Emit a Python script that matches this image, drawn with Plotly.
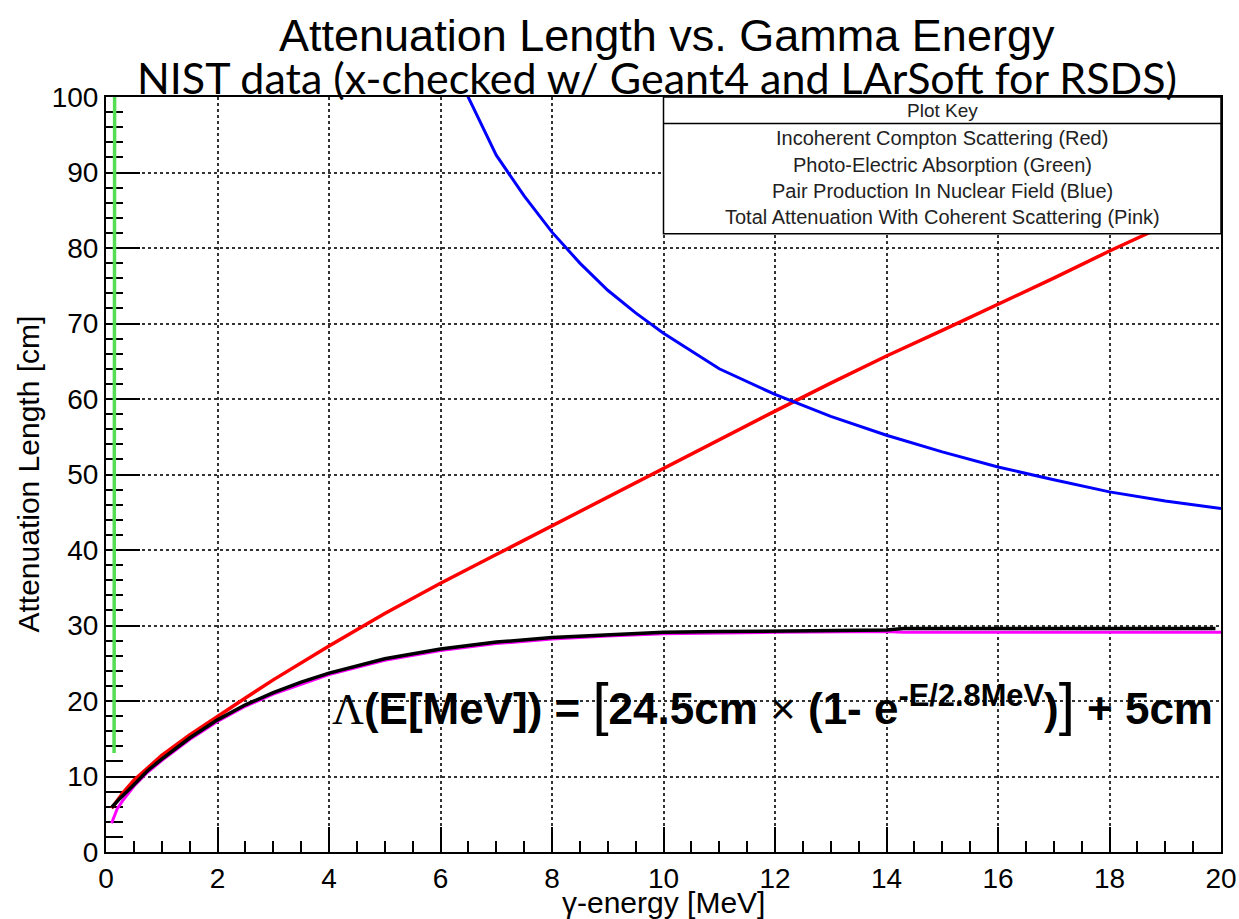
import plotly.graph_objects as go

# ---------------- data ----------------
compton_E = [0.1, 0.2, 0.3, 0.5, 0.75, 1, 1.5, 2, 2.5, 3, 4, 5, 6, 7, 8, 9, 10,
             11, 12, 13, 14, 15, 16, 17, 18, 19, 20]
compton_L = [5.8, 6.9, 7.8, 9.5, 11.2, 12.8, 15.5, 18.0, 20.4, 22.8, 27.3, 31.6,
             35.6, 39.4, 43.2, 47.0, 50.9, 54.7, 58.4, 62.1, 65.7, 69.1, 72.5,
             76.0, 79.6, 83.0, 86.4]

photo_E = [0.145, 0.15, 0.155]
photo_L = [13.1, 40, 100]

pair_E = [6.3, 6.5, 7, 7.5, 8, 8.5, 9, 9.5, 10, 11, 12, 13, 14, 15, 16, 17, 18, 19, 20]
pair_L = [103, 100, 92.3, 86.9, 82.1, 78.0, 74.4, 71.4, 68.7, 64.0, 60.6, 57.7,
          55.2, 53.0, 51.0, 49.3, 47.7, 46.5, 45.5]

total_E = [0.1, 0.15, 0.2, 0.3, 0.5, 0.75, 1, 1.5, 2, 2.5, 3, 4, 5, 6, 7, 8, 9,
           10, 12, 14, 14.3, 16, 18, 20]
total_L = [3.8, 4.9, 5.7, 6.8, 8.7, 10.6, 12.1, 14.9, 17.3, 19.3, 20.9, 23.5,
           25.4, 26.7, 27.6, 28.2, 28.6, 28.9, 29.1, 29.2, 29.1, 29.1, 29.1, 29.1]

fit_E = [0.1, 0.25, 0.5, 0.75, 1, 1.5, 2, 2.5, 3, 3.5, 4, 5, 6, 7, 8, 9, 10, 11,
         12, 13, 14, 14.3, 15, 16, 17, 18, 19, 19.9]
fit_L = [5.9, 7.1, 8.9, 10.8, 12.3, 15.1, 17.5, 19.5, 21.1, 22.5, 23.7, 25.6,
         26.9, 27.8, 28.4, 28.8, 29.1, 29.2, 29.3, 29.4, 29.4, 29.6, 29.6, 29.6,
         29.6, 29.6, 29.6, 29.6]

key_title = "Plot Key"
key_rows = ["Incoherent Compton Scattering (Red)",
            "Photo-Electric Absorption (Green)",
            "Pair Production In Nuclear Field (Blue)",
            "Total Attenuation With Coherent Scattering (Pink)"]
key_row_y = [94.6, 91.0, 87.6, 84.1]

x_ticks = [0, 2, 4, 6, 8, 10, 12, 14, 16, 18, 20]
y_ticks = [0, 10, 20, 30, 40, 50, 60, 70, 80, 90, 100]

x_title = "γ-energy [MeV]"
y_title = "Attenuation Length [cm]"

# ---------------- figure ----------------
FONT = "Liberation Sans, Arial, Helvetica, sans-serif"

fig = go.Figure()
fig.add_trace(go.Scatter(x=compton_E, y=compton_L, mode="lines",
                         line=dict(color="#ff0000", width=3.5), name="Compton"))
fig.add_trace(go.Scatter(x=photo_E, y=photo_L, mode="lines",
                         line=dict(color="#55dd55", width=3.5), name="Photo-electric"))
fig.add_trace(go.Scatter(x=pair_E, y=pair_L, mode="lines",
                         line=dict(color="#0000ff", width=3), name="Pair production"))
fig.add_trace(go.Scatter(x=total_E, y=total_L, mode="lines",
                         line=dict(color="#ff00ff", width=3), name="Total"))
fig.add_trace(go.Scatter(x=fit_E, y=fit_L, mode="lines",
                         line=dict(color="#000000", width=3.5), name="Fit"))

axis_common = dict(
    showline=True, linecolor="black", linewidth=2, mirror=True,
    ticks="inside", tickcolor="black", tickwidth=1.5,
    showgrid=True, gridcolor="#333333", gridwidth=1.5, griddash="dot",
    zeroline=False, automargin=False, layer="below traces",
    tickfont=dict(family=FONT, size=28, color="black"),
)

fig.update_xaxes(range=[0, 20], tickvals=x_ticks, ticklen=25,
                 minor=dict(dtick=0.5, ticklen=11, ticks="inside",
                            tickcolor="black", tickwidth=1.5, showgrid=False),
                 **axis_common)
fig.update_yaxes(range=[0, 100], tickvals=y_ticks, ticklen=34,
                 minor=dict(dtick=2, ticklen=17, ticks="inside",
                            tickcolor="black", tickwidth=1.5, showgrid=False),
                 **axis_common)

# axis titles
fig.add_annotation(x=0.5, y=-0.067, xref="paper", yref="paper", text=x_title,
                   showarrow=False, yanchor="middle",
                   font=dict(family=FONT, size=30, color="black"))
fig.add_annotation(x=0, y=0.5, xref="paper", yref="paper", text=y_title,
                   showarrow=False, textangle=-90, xanchor="center", yanchor="middle",
                   xshift=-78, font=dict(family=FONT, size=30, color="black"))

# key box
fig.add_shape(type="rect", x0=10.0, x1=20, y0=81.9, y1=100, xref="x", yref="y",
              fillcolor="white", line=dict(color="black", width=1.5), layer="above")
fig.add_shape(type="line", x0=10.0, x1=20, y0=96.5, y1=96.5, xref="x", yref="y",
              line=dict(color="black", width=1.5), layer="above")
fig.add_annotation(x=15, y=98.25, xref="x", yref="y", text=key_title, showarrow=False,
                   font=dict(family=FONT, size=19, color="#222222"))
for txt, yy in zip(key_rows, key_row_y):
    fig.add_annotation(x=15, y=yy, xref="x", yref="y", text=txt, showarrow=False,
                       font=dict(family=FONT, size=20, color="#222222"))

# formula
formula = ("<span style='font-family:Liberation Serif;font-weight:normal'>Λ</span>"
           "<b>(E[MeV]) = </b>"
           "<span style='font-size:58px;font-weight:normal'>[</span>"
           "<b>24.5cm </b>× <b>(1- e<sup>-E/2.8MeV</sup>)</b>"
           "<span style='font-size:58px;font-weight:normal'>]</span>"
           "<b> + 5cm</b>")
fig.add_annotation(x=19.9, y=19.7, xref="x", yref="y", text=formula, showarrow=False,
                   xanchor="right", yanchor="middle",
                   font=dict(family=FONT, size=44, color="black"))

# titles
fig.add_annotation(x=0.503, y=1.082, xref="paper", yref="paper",
                   text="Attenuation Length vs. Gamma Energy", showarrow=False,
                   font=dict(family=FONT, size=45, color="black"), yanchor="middle")
fig.add_annotation(x=0.494, y=1.026, xref="paper", yref="paper",
                   text="NIST data (x-checked w/ Geant4 and LArSoft for RSDS)", showarrow=False,
                   font=dict(family="Lato, Open Sans, sans-serif", size=43, color="black"),
                   yanchor="middle")

fig.update_layout(
    width=1239, height=919,
    margin=dict(l=106, r=18, t=97, b=67),
    plot_bgcolor="white", paper_bgcolor="white",
    showlegend=False,
)

# remove the default page margin/scrollbars so the figure fills the window exactly
fig.write_html("out.html",
               config={"displayModeBar": False},
               post_script="document.body.style.margin='0';"
                           "document.body.style.overflow='hidden';")
